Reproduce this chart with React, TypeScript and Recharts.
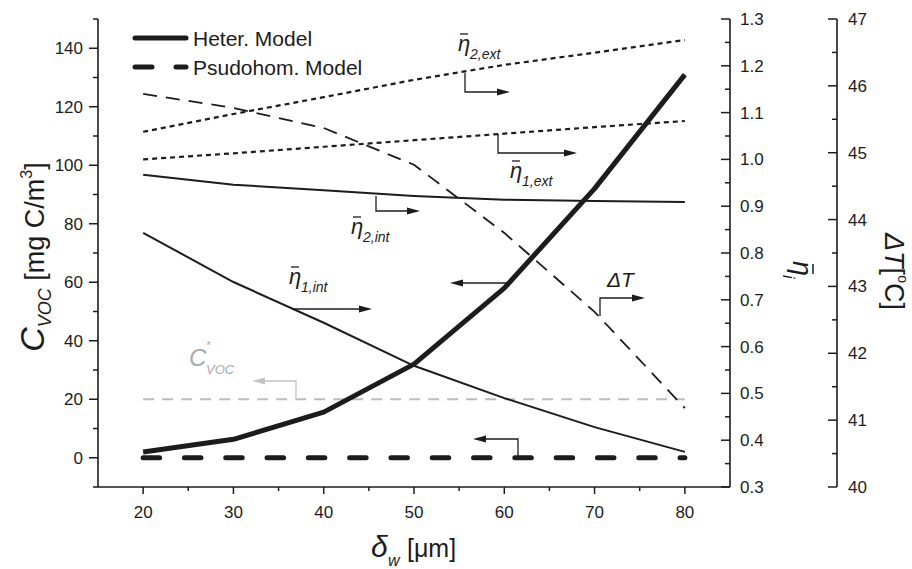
import React from "react"
import { ComposedChart, Line, XAxis, YAxis, Legend } from "recharts"

// wall thickness delta_w [um]
const DELTA_W = [20, 30, 40, 50, 60, 70, 80]
// left axis: C_VOC [mg C/m3]
const C_HETER = [2, 6.3, 15.6, 32, 58, 92, 131]
const C_PSUDOHOM = [0, 0, 0, 0, 0, 0, 0]
const C_STAR = [20, 20, 20, 20, 20, 20, 20]
// right axis: effectiveness factors
const ETA_2_EXT = [1.059, 1.097, 1.133, 1.17, 1.202, 1.228, 1.255]
const ETA_1_EXT = [1.0, 1.013, 1.027, 1.041, 1.055, 1.069, 1.082]
const ETA_2_INT = [0.967, 0.946, 0.934, 0.922, 0.914, 0.911, 0.909]
const ETA_1_INT = [0.843, 0.738, 0.651, 0.559, 0.49, 0.428, 0.375]
// far right axis: delta T [C]
const DELTA_T = [45.88, 45.67, 45.37, 44.82, 43.8, 42.62, 41.18]

const X_TICKS = [20, 25, 30, 35, 40, 45, 50, 55, 60, 65, 70, 75, 80]
const C_TICKS = [-10, 0, 10, 20, 30, 40, 50, 60, 70, 80, 90, 100, 110, 120, 130, 140, 150]
const ETA_TICKS = [0.3, 0.35, 0.4, 0.45, 0.5, 0.55, 0.6, 0.65, 0.7, 0.75, 0.8, 0.85, 0.9, 0.95, 1.0, 1.05, 1.1, 1.15, 1.2, 1.25, 1.3]
const DT_TICKS = [40, 40.5, 41, 41.5, 42, 42.5, 43, 43.5, 44, 44.5, 45, 45.5, 46, 46.5, 47]

const LEGEND = ["Heter. Model", "Psudohom. Model"]

const INK = "#1c1c1c"
const GRAY = "#bdbdbd"
const FONT = "'Liberation Sans', Arial, Helvetica, sans-serif"

const data = DELTA_W.map((x, i) => ({
  x,
  heter: C_HETER[i],
  psudo: C_PSUDOHOM[i],
  cstar: C_STAR[i],
  eta2ext: ETA_2_EXT[i],
  eta1ext: ETA_1_EXT[i],
  eta2int: ETA_2_INT[i],
  eta1int: ETA_1_INT[i],
  dT: DELTA_T[i],
}))

const BottomTick = (props: any) => {
  const { x, y, payload } = props
  const v = payload.value
  const major = v % 10 === 0
  return (
    <g>
      <line x1={x} x2={x} y1={y} y2={y + (major ? 7 : 4)} stroke={INK} strokeWidth={1.5} />
      {major && (
        <text x={x} y={y + 31} textAnchor="middle" fontSize={17} fontFamily={FONT} fill={INK}>
          {v}
        </text>
      )}
    </g>
  )
}

const TopTick = (props: any) => {
  const { x, y, payload } = props
  const major = payload.value % 10 === 0
  return <line x1={x} x2={x} y1={y} y2={y - (major ? 4 : 2)} stroke={INK} strokeWidth={1.2} />
}

const LeftTick = (props: any) => {
  const { x, y, payload } = props
  const v = payload.value
  const major = v % 20 === 0
  return (
    <g>
      <line x1={x} x2={x - (major ? 9 : 5)} y1={y} y2={y} stroke={INK} strokeWidth={1.5} />
      {major && v >= 0 && v <= 140 && (
        <text x={x - 15} y={y + 6} textAnchor="end" fontSize={17} fontFamily={FONT} fill={INK}>
          {v}
        </text>
      )}
    </g>
  )
}

const EtaTick = (props: any) => {
  const { x, y, payload } = props
  const v = payload.value
  const major = Math.round(v * 100) % 10 === 0
  return (
    <g>
      <line x1={x} x2={x - (major ? 9 : 5)} y1={y} y2={y} stroke={INK} strokeWidth={1.5} />
      {major && (
        <text x={x + 10} y={y + 6} fontSize={17} fontFamily={FONT} fill={INK}>
          {v.toFixed(1)}
        </text>
      )}
    </g>
  )
}

const DtTick = (props: any) => {
  const { x, y, payload } = props
  const v = payload.value
  const major = v % 1 === 0
  return (
    <g>
      <line x1={x} x2={x - (major ? 9 : 5)} y1={y} y2={y} stroke={INK} strokeWidth={1.5} />
      {major && (
        <text x={x + 11} y={y + 6} fontSize={17} fontFamily={FONT} fill={INK}>
          {v}
        </text>
      )}
    </g>
  )
}

const LegendBox = () => (
  <svg width={220} height={60} style={{ overflow: "visible" }}>
    <line x1={6} x2={57} y1={12} y2={12} stroke={INK} strokeWidth={5} strokeLinecap="round" />
    <text x={64} y={20} fontSize={21} fontFamily={FONT} fill={INK}>{LEGEND[0]}</text>
    <line x1={6} x2={57} y1={41} y2={41} stroke={INK} strokeWidth={5} strokeLinecap="round" strokeDasharray="17 24" />
    <text x={64} y={49} fontSize={21} fontFamily={FONT} fill={INK}>{LEGEND[1]}</text>
  </svg>
)

function Arrow({ pts, color = INK }: { pts: number[][]; color?: string }) {
  const [x1, y1] = pts[pts.length - 2]
  const [x2, y2] = pts[pts.length - 1]
  const a = Math.atan2(y2 - y1, x2 - x1)
  const L = 13
  const W = 3.5
  const bx = x2 - L * Math.cos(a)
  const by = y2 - L * Math.sin(a)
  const px = -Math.sin(a) * W
  const py = Math.cos(a) * W
  const line = pts.slice(0, -1).concat([[bx, by]]).map((p) => p.join(",")).join(" ")
  return (
    <g>
      <polyline points={line} fill="none" stroke={color} strokeWidth={1.3} />
      <polygon points={`${x2},${y2} ${bx + px},${by + py} ${bx - px},${by - py}`} fill={color} />
    </g>
  )
}

function EtaLabel({ x, y, sub }: { x: number; y: number; sub: string }) {
  return (
    <g fontFamily={FONT} fill={INK} fontStyle="italic">
      <line x1={x + 2} x2={x + 10} y1={y - 17} y2={y - 17} stroke={INK} strokeWidth={1.3} />
      <text x={x} y={y} fontSize={22}>η</text>
      <text x={x + 12} y={y + 8} fontSize={14}>{sub}</text>
    </g>
  )
}

function Overlay() {
  return (
    <svg
      width={912}
      height={569}
      style={{ position: "absolute", left: 0, top: 0, pointerEvents: "none" }}
    >
      {/* axis titles */}
      <text transform="translate(44,257) rotate(-90)" textAnchor="middle" fontFamily={FONT} fill={INK}>
        <tspan fontSize={34} fontStyle="italic">C</tspan>
        <tspan fontSize={18} fontStyle="italic" dy={7}>VOC</tspan>
        <tspan fontSize={27} dy={-7}>{" [mg C/m"}</tspan>
        <tspan fontSize={16} dy={-12}>3</tspan>
        <tspan fontSize={27} dy={12}>]</tspan>
      </text>
      <g fontFamily={FONT} fill={INK}>
        <text x={371} y={557} fontSize={30} fontStyle="italic">δ</text>
        <text x={388} y={566} fontSize={16} fontStyle="italic">w</text>
        <text x={407} y={557} fontSize={25}>[μm]</text>
      </g>
      <g transform="translate(793,261) rotate(90)" fontFamily={FONT} fill={INK} fontStyle="italic">
        <line x1={3} x2={13} y1={-20} y2={-20} stroke={INK} strokeWidth={1.5} />
        <text x={0} y={0} fontSize={27}>η</text>
        <text x={14} y={10} fontSize={16}>i</text>
      </g>
      <text transform="translate(885,233) rotate(90)" fontFamily={FONT} fill={INK} fontSize={27}>
        <tspan fontStyle="italic">ΔT</tspan>
        <tspan>[</tspan>
        <tspan fontSize={14} dy={-13}>o</tspan>
        <tspan dy={13}>C]</tspan>
      </text>

      {/* curve annotations */}
      <EtaLabel x={458} y={51} sub="2,ext" />
      <Arrow pts={[[465, 73], [465, 92], [510, 92]]} />
      <EtaLabel x={510} y={178} sub="1,ext" />
      <Arrow pts={[[498, 134], [498, 153], [577, 153]]} />
      <EtaLabel x={351} y={234} sub="2,int" />
      <Arrow pts={[[376, 196], [376, 211], [420, 211]]} />
      <EtaLabel x={289} y={284} sub="1,int" />
      <Arrow pts={[[292, 309], [372, 309]]} />
      <Arrow pts={[[508, 283], [450, 283]]} />
      <text x={607} y={287} fontSize={21} fontStyle="italic" fontFamily={FONT} fill={INK}>ΔT</text>
      <Arrow pts={[[600, 316], [600, 298], [645, 298]]} />
      <Arrow pts={[[518, 457], [518, 439], [473, 439]]} />
      <g fontFamily={FONT} fill="#a9a9a9" fontStyle="italic">
        <text x={189} y={366} fontSize={24}>C</text>
        <text x={206} y={349} fontSize={11}>*</text>
        <text x={206} y={374} fontSize={13}>VOC</text>
      </g>
      <Arrow pts={[[296, 398], [296, 381], [252, 381]]} color="#c4c4c4" />
    </svg>
  )
}

export default function App() {
  return (
    <div
      style={{
        position: "absolute",
        left: 0,
        top: 0,
        width: 912,
        height: 569,
        background: "#fff",
        fontFamily: FONT,
      }}
    >
      <ComposedChart width={912} height={569} data={data} margin={{ top: 19, right: 0, bottom: 0, left: 0 }}>
        <XAxis
          dataKey="x"
          type="number"
          domain={[15, 85]}
          ticks={X_TICKS}
          height={82}
          tickSize={0}
          tickMargin={0}
          tickLine={false}
          tick={<BottomTick />}
          axisLine={{ stroke: INK, strokeWidth: 1.6 }}
          interval={0}
        />
        <XAxis
          xAxisId="top"
          dataKey="x"
          type="number"
          orientation="top"
          domain={[15, 85]}
          ticks={X_TICKS}
          height={0}
          tickSize={0}
          tickMargin={0}
          tickLine={false}
          tick={<TopTick />}
          axisLine={{ stroke: INK, strokeWidth: 1.6 }}
          interval={0}
        />
        <YAxis
          yAxisId="c"
          domain={[-10, 150]}
          ticks={C_TICKS}
          width={98}
          tickSize={0}
          tickMargin={0}
          tickLine={false}
          tick={<LeftTick />}
          axisLine={{ stroke: INK, strokeWidth: 1.6 }}
          interval={0}
        />
        <YAxis
          yAxisId="r1_eta"
          orientation="right"
          domain={[0.3, 1.3]}
          ticks={ETA_TICKS}
          width={107}
          tickSize={0}
          tickMargin={0}
          tickLine={false}
          tick={<EtaTick />}
          axisLine={{ stroke: INK, strokeWidth: 1.6 }}
          interval={0}
        />
        <YAxis
          yAxisId="r2_dt"
          orientation="right"
          domain={[40, 47]}
          ticks={DT_TICKS}
          width={75}
          tickSize={0}
          tickMargin={0}
          tickLine={false}
          tick={<DtTick />}
          axisLine={{ stroke: INK, strokeWidth: 1.6 }}
          interval={0}
        />
        <Legend
          layout="vertical"
          align="center"
          verticalAlign="middle"
          content={<LegendBox />}
          wrapperStyle={{ left: 129, top: 26, width: 220, height: 60 }}
        />
        <Line yAxisId="c" dataKey="cstar" stroke={GRAY} strokeWidth={1.8} strokeDasharray="11 8" dot={false} isAnimationActive={false} legendType="none" />
        <Line yAxisId="r1_eta" dataKey="eta1int" stroke={INK} strokeWidth={2} dot={false} isAnimationActive={false} legendType="none" />
        <Line yAxisId="r1_eta" dataKey="eta2int" stroke={INK} strokeWidth={2} dot={false} isAnimationActive={false} legendType="none" />
        <Line yAxisId="r1_eta" dataKey="eta1ext" stroke={INK} strokeWidth={2.2} strokeDasharray="5 4" dot={false} isAnimationActive={false} legendType="none" />
        <Line yAxisId="r1_eta" dataKey="eta2ext" stroke={INK} strokeWidth={2.2} strokeDasharray="5 4" dot={false} isAnimationActive={false} legendType="none" />
        <Line yAxisId="r2_dt" dataKey="dT" stroke={INK} strokeWidth={1.8} strokeDasharray="14 9" dot={false} isAnimationActive={false} legendType="none" />
        <Line yAxisId="c" dataKey="psudo" name={LEGEND[1]} stroke={INK} strokeWidth={5} strokeLinecap="round" strokeDasharray="16.5 24.8" dot={false} isAnimationActive={false} />
        <Line yAxisId="c" dataKey="heter" name={LEGEND[0]} stroke={INK} strokeWidth={5} strokeLinejoin="round" dot={false} isAnimationActive={false} />
      </ComposedChart>
      <Overlay />
    </div>
  )
}
